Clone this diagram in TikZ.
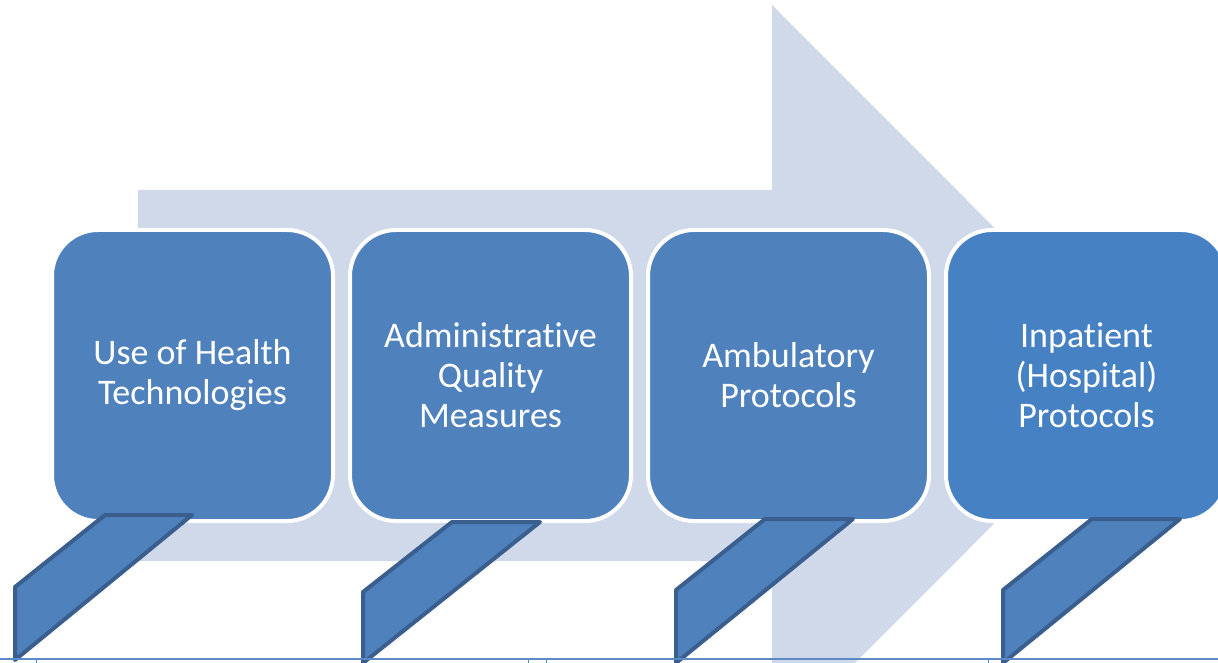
\documentclass[tikz,border=0pt]{standalone}
\usepackage{fontspec}
\setmainfont{Carlito}[Ligatures=NoCommon]
\usetikzlibrary{positioning}
\definecolor{boxblue}{HTML}{4F81BD}
\definecolor{boxbluedeep}{HTML}{4581C3}
\definecolor{arrowbg}{HTML}{CFD9E9}
\definecolor{tabedge}{HTML}{3A5F8E}
\definecolor{ruleblue}{HTML}{5B8AC6}

\begin{document}
\begin{tikzpicture}[
  x=1pt, y=-1pt,
  node distance=17pt,
  stage/.style={fill=boxblue, draw=white, line width=4pt, rounded corners=46pt,
                minimum width=281pt, minimum height=291pt, inner sep=0pt, outer sep=0pt,
                text=white, align=center, font=\fontsize{36}{40}\selectfont},
  tab/.style={fill=boxblue, draw=tabedge, line width=4pt, line join=round}
]
  \useasboundingbox (0,0) rectangle (1218,663);
  \clip (0,0) rectangle (1218,663);

  % Background arrow
  \fill[arrowbg] (138,190) -- (772,190) -- (772,5) -- (1142,375.5)
    -- (772,746) -- (772,561) -- (138,561) -- cycle;

  % Stages
  \node[stage] (health) at (192.5,375.5) {Use of Health\\Technologies};
  \node[stage, right=of health] (admin) {Administrative\\Quality\\Measures};
  \node[stage, right=of admin] (ambulatory) {Ambulatory\\Protocols};
  \node[stage, right=of ambulatory, fill=boxbluedeep] (inpatient)
    {Inpatient\\(Hospital)\\Protocols};

  % Tabs
  \draw[tab] (15,660) -- (15,587) -- (105,515) -- (192,515) -- cycle;
  \draw[tab] (363,663) -- (363,592) -- (452,522) -- (540,522) -- cycle;
  \draw[tab] (676,663) -- (676,590) -- (765,519) -- (853,519) -- cycle;
  \draw[tab] (1003,663) -- (1003,590) -- (1092,519) -- (1180,519) -- cycle;

  % Bottom rule
  \draw[ruleblue, line width=1.2pt] (0,659) -- (1218,659);
  \draw[ruleblue, line width=1pt] (36,659) -- (36,663) (988,659) -- (988,663);
  \draw[ruleblue, line width=0.8pt] (528,659) rectangle (546,664);
\end{tikzpicture}
\end{document}
